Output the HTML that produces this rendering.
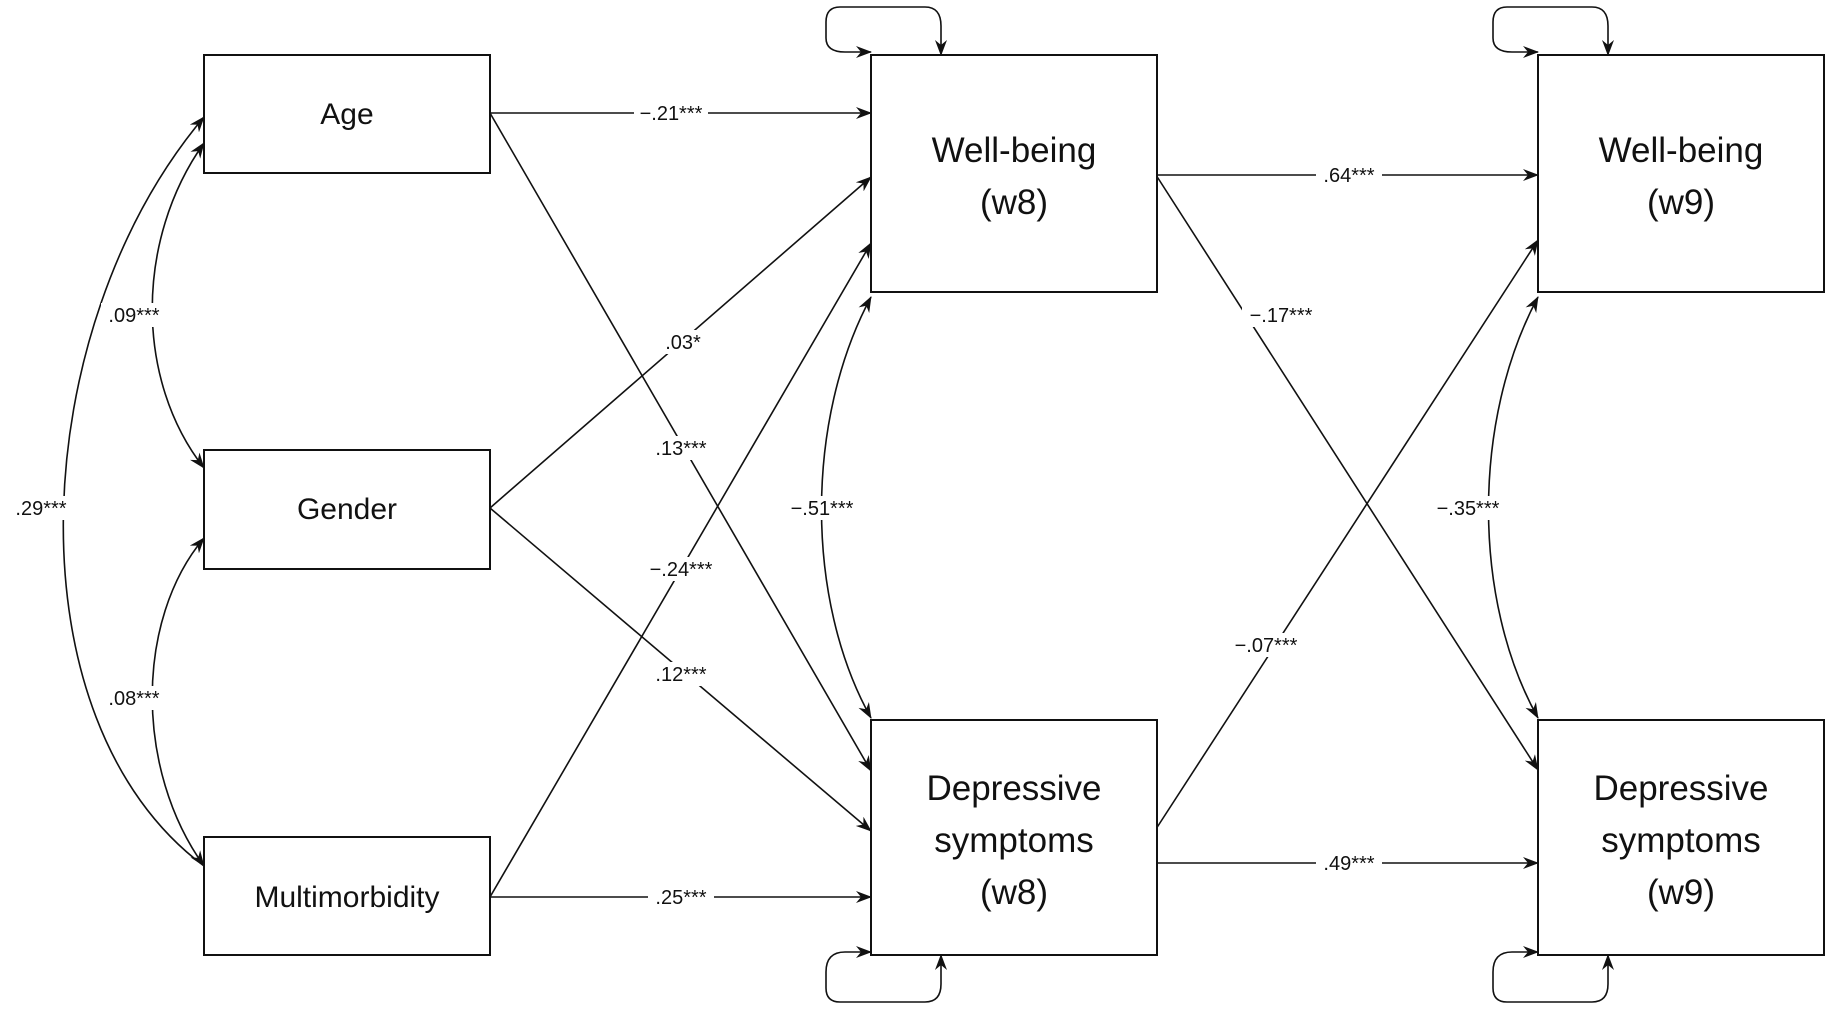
<!DOCTYPE html>
<html><head><meta charset="utf-8"><style>
html,body{margin:0;padding:0;background:#fff;}
svg{display:block;}
text{font-family:"Liberation Sans",Arial,sans-serif;fill:#111;}
.box{fill:#fff;stroke:#111;stroke-width:2;}
.ln{fill:none;stroke:#111;stroke-width:1.6;}
.lab{font-size:20px;text-anchor:middle;}
.big{font-size:35px;text-anchor:middle;}
.mid{font-size:30px;text-anchor:middle;}
</style></head><body>
<svg width="1831" height="1010" viewBox="0 0 1831 1010" xmlns="http://www.w3.org/2000/svg">
<defs>
<marker id="a" viewBox="0 0 16 12" refX="15" refY="6" markerWidth="16" markerHeight="12" markerUnits="userSpaceOnUse" orient="auto-start-reverse">
<path d="M0,0 L16,6 L0,12 L5,6 Z" fill="#111"/>
</marker>
</defs>

<path class="ln" d="M490,113 L871,113" marker-end="url(#a)"/>
<path class="ln" d="M490,113 L871,771" marker-end="url(#a)"/>
<path class="ln" d="M490,508 L871,177" marker-end="url(#a)"/>
<path class="ln" d="M490,508 L871,831" marker-end="url(#a)"/>
<path class="ln" d="M490,897 L871,897" marker-end="url(#a)"/>
<path class="ln" d="M490,897 L871,243" marker-end="url(#a)"/>
<path class="ln" d="M1156,175 L1538,175" marker-end="url(#a)"/>
<path class="ln" d="M1156,175 L1538,770" marker-end="url(#a)"/>
<path class="ln" d="M1156,829 L1538,240" marker-end="url(#a)"/>
<path class="ln" d="M1156,863 L1538,863" marker-end="url(#a)"/>

<path class="ln" d="M204,143 C135,240 135,380 204,468" marker-start="url(#a)" marker-end="url(#a)"/>
<path class="ln" d="M204,538 C135,620 135,770 204,866" marker-start="url(#a)" marker-end="url(#a)"/>
<path class="ln" d="M204,117 C25,330 8,720 204,866" marker-start="url(#a)"/>
<path class="ln" d="M871,297 C805,420 805,600 871,718" marker-start="url(#a)" marker-end="url(#a)"/>
<path class="ln" d="M1538,297 C1472,420 1472,600 1538,718" marker-start="url(#a)" marker-end="url(#a)"/>

<path class="ln" d="M941,55 L941,26 Q941,7 925,7 L840,7 Q826,7 826,22 L826,38 Q826,52 845,52 L871,52" marker-start="url(#a)" marker-end="url(#a)"/>
<path class="ln" d="M1608,55 L1608,26 Q1608,7 1592,7 L1507,7 Q1493,7 1493,22 L1493,38 Q1493,52 1512,52 L1538,52" marker-start="url(#a)" marker-end="url(#a)"/>
<path class="ln" d="M941,955 L941,984 Q941,1002 925,1002 L840,1002 Q826,1002 826,988 L826,972 Q826,952 845,952 L871,952" marker-start="url(#a)" marker-end="url(#a)"/>
<path class="ln" d="M1608,955 L1608,984 Q1608,1002 1592,1002 L1507,1002 Q1493,1002 1493,988 L1493,972 Q1493,952 1512,952 L1538,952" marker-start="url(#a)" marker-end="url(#a)"/>

<rect class="box" x="204" y="55" width="286" height="118"/>
<rect class="box" x="204" y="450" width="286" height="119"/>
<rect class="box" x="204" y="837" width="286" height="118"/>
<rect class="box" x="871" y="55" width="286" height="237"/>
<rect class="box" x="871" y="720" width="286" height="235"/>
<rect class="box" x="1538" y="55" width="286" height="237"/>
<rect class="box" x="1538" y="720" width="286" height="235"/>

<text class="mid" x="347" y="124">Age</text>
<text class="mid" x="347" y="519">Gender</text>
<text class="mid" x="347" y="907">Multimorbidity</text>
<text class="big" x="1014" y="162">Well-being</text>
<text class="big" x="1014" y="214">(w8)</text>
<text class="big" x="1681" y="162">Well-being</text>
<text class="big" x="1681" y="214">(w9)</text>
<text class="big" x="1014" y="800">Depressive</text>
<text class="big" x="1014" y="852">symptoms</text>
<text class="big" x="1014" y="904">(w8)</text>
<text class="big" x="1681" y="800">Depressive</text>
<text class="big" x="1681" y="852">symptoms</text>
<text class="big" x="1681" y="904">(w9)</text>

<g>
<rect x="634" y="101" width="74" height="24" fill="#fff"/><text class="lab" x="671" y="120">−.21***</text>
<rect x="658" y="330" width="50" height="24" fill="#fff"/><text class="lab" x="683" y="349">.03*</text>
<rect x="648" y="436" width="66" height="24" fill="#fff"/><text class="lab" x="681" y="455">.13***</text>
<rect x="642" y="557" width="78" height="24" fill="#fff"/><text class="lab" x="681" y="576">−.24***</text>
<rect x="648" y="662" width="66" height="24" fill="#fff"/><text class="lab" x="681" y="681">.12***</text>
<rect x="648" y="885" width="66" height="24" fill="#fff"/><text class="lab" x="681" y="904">.25***</text>
<rect x="101" y="303" width="66" height="24" fill="#fff"/><text class="lab" x="134" y="322">.09***</text>
<rect x="101" y="686" width="66" height="24" fill="#fff"/><text class="lab" x="134" y="705">.08***</text>
<rect x="6" y="496" width="70" height="24" fill="#fff"/><text class="lab" x="41" y="515">.29***</text>
<rect x="783" y="496" width="78" height="24" fill="#fff"/><text class="lab" x="822" y="515">−.51***</text>
<rect x="1429" y="496" width="78" height="24" fill="#fff"/><text class="lab" x="1468" y="515">−.35***</text>
<rect x="1316" y="163" width="66" height="24" fill="#fff"/><text class="lab" x="1349" y="182">.64***</text>
<rect x="1242" y="303" width="78" height="24" fill="#fff"/><text class="lab" x="1281" y="322">−.17***</text>
<rect x="1227" y="633" width="78" height="24" fill="#fff"/><text class="lab" x="1266" y="652">−.07***</text>
<rect x="1316" y="851" width="66" height="24" fill="#fff"/><text class="lab" x="1349" y="870">.49***</text>
</g>
</svg>
</body></html>
